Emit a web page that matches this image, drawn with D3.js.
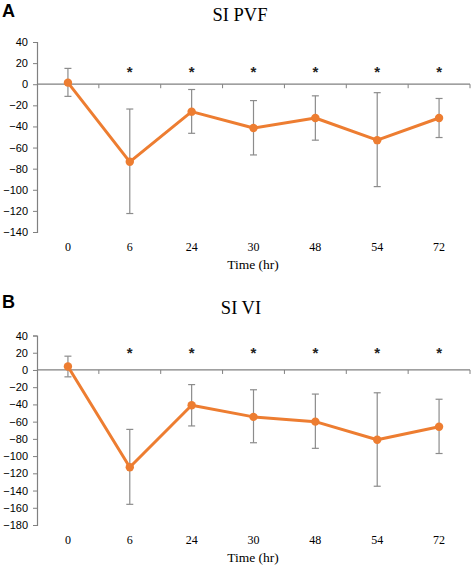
<!DOCTYPE html>
<html><head><meta charset="utf-8">
<script src="https://cdn.jsdelivr.net/npm/d3@7"></script>
<style>body{margin:0;background:#fff}</style>
</head><body>
<svg id="chart" width="472" height="568"></svg>
<script>
const categories = ["0","6","24","30","48","54","72"];
const significant = [false,true,true,true,true,true,true];
const pvfMean  = [1.5, -73.5, -26, -41.5, -32, -53, -32];
const pvfUpper = [15, -23.5, -5, -15.5, -11, -8, -13.5];
const pvfLower = [-11.5, -122.5, -46.5, -67, -53, -97, -50.5];
const viMean  = [4, -113, -41, -54.5, -60, -81, -66];
const viUpper = [16, -69, -17, -23, -28, -26.5, -34];
const viLower = [-8, -156, -65, -84.5, -91, -135, -97];
const pvfTicks = [40,20,0,-20,-40,-60,-80,-100,-120,-140];
const viTicks = [40,20,0,-20,-40,-60,-80,-100,-120,-140,-160,-180];

const svg = d3.select("#chart");
const orange = "#ED7D31";

function panel(cfg){
  const g = svg.append("g");
  const x = d3.scaleBand().domain(categories).range([37,470]).padding(0);
  const y = d3.scaleLinear().domain(cfg.domain).range(cfg.range);
  g.append("text").attr("x",2).attr("y",cfg.letterY).text(cfg.letter)
    .attr("font-family","Liberation Sans, Arial, sans-serif").attr("font-weight","bold")
    .attr("font-size",18).attr("fill","#000");
  g.append("text").attr("x",cfg.titleX).attr("y",cfg.titleY).attr("text-anchor","middle")
    .text(cfg.title).attr("font-family","Liberation Serif, Times New Roman, serif")
    .attr("font-size",18.5).attr("fill","#000");
  const yAxis = d3.axisLeft(y).tickValues(cfg.ticks).tickSize(4).tickPadding(5).tickFormat(d3.format("d"));
  const ya = g.append("g").attr("transform","translate(37,0)").call(yAxis);
  ya.select(".domain").attr("stroke","#808080").attr("stroke-width",1.2);
  ya.selectAll(".tick line").attr("stroke","#808080");
  ya.selectAll(".tick text").attr("font-family","Liberation Sans, Arial, sans-serif")
    .attr("font-size",11).attr("fill","#000");
  const y0 = y(0);
  g.append("line").attr("x1",37).attr("x2",470).attr("y1",y0).attr("y2",y0)
    .attr("stroke","#808080").attr("stroke-width",1.2);
  const bounds = categories.map(c=>x(c)+x.bandwidth());
  g.selectAll(".xt").data(bounds).enter().append("line")
    .attr("x1",d=>d).attr("x2",d=>d).attr("y1",y0).attr("y2",y0+4)
    .attr("stroke","#808080");
  g.selectAll(".xl").data(categories).enter().append("text")
    .attr("x",d=>x(d)+x.bandwidth()/2).attr("y",cfg.xLabelY).attr("text-anchor","middle")
    .text(d=>d).attr("font-family","Liberation Serif, Times New Roman, serif")
    .attr("font-size",12).attr("fill","#000");
  g.append("text").attr("x",253).attr("y",cfg.xTitleY).attr("text-anchor","middle")
    .text("Time (hr)").attr("font-family","Liberation Serif, Times New Roman, serif")
    .attr("font-size",13.5).attr("fill","#000");
  g.selectAll(".ast").data(categories.filter((c,i)=>significant[i])).enter().append("text")
    .attr("x",d=>x(d)+x.bandwidth()/2).attr("y",cfg.astY).attr("text-anchor","middle")
    .text("*").attr("font-family","Liberation Sans, Arial, sans-serif")
    .attr("font-size",15).attr("font-weight","bold").attr("fill","#222");
  const cx = d=>x(d)+x.bandwidth()/2;
  const eb = g.append("g").attr("stroke","#8c8c8c").attr("stroke-width",1.2);
  categories.forEach((c,i)=>{
    eb.append("line").attr("x1",cx(c)).attr("x2",cx(c)).attr("y1",y(cfg.upper[i])).attr("y2",y(cfg.lower[i]));
    eb.append("line").attr("x1",cx(c)-3.5).attr("x2",cx(c)+3.5).attr("y1",y(cfg.upper[i])).attr("y2",y(cfg.upper[i]));
    eb.append("line").attr("x1",cx(c)-3.5).attr("x2",cx(c)+3.5).attr("y1",y(cfg.lower[i])).attr("y2",y(cfg.lower[i]));
  });
  const line = d3.line().x((d,i)=>cx(categories[i])).y(d=>y(d));
  g.append("path").datum(cfg.mean).attr("d",line).attr("fill","none")
    .attr("stroke",orange).attr("stroke-width",3).attr("stroke-linejoin","round");
  g.selectAll(".pt").data(cfg.mean).enter().append("circle")
    .attr("cx",(d,i)=>cx(categories[i])).attr("cy",d=>y(d)).attr("r",4.2).attr("fill",orange);
}

panel({letter:"A",letterY:17,title:"SI PVF",titleX:240,titleY:21,domain:[-140,40],range:[232,42],
  ticks:pvfTicks,mean:pvfMean,upper:pvfUpper,lower:pvfLower,xLabelY:251,xTitleY:269,astY:77});
panel({letter:"B",letterY:308,title:"SI VI",titleX:241,titleY:314,domain:[-180,40],range:[525,335.5],
  ticks:viTicks,mean:viMean,upper:viUpper,lower:viLower,xLabelY:544,xTitleY:562,astY:358});
</script>
</body></html>
